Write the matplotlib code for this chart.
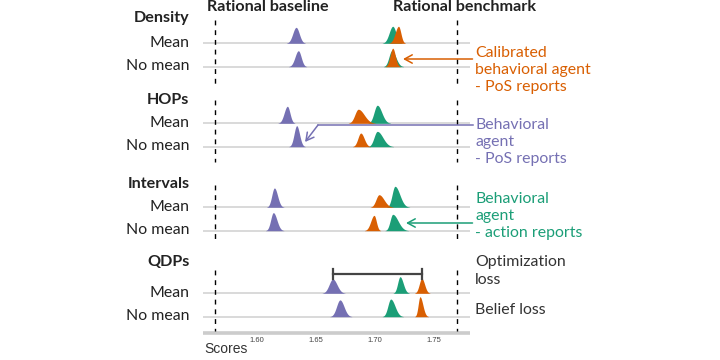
import numpy as np
import matplotlib
matplotlib.use("Agg")
import matplotlib.pyplot as plt

# ---------------- data ----------------
groups = ["Density", "HOPs", "Intervals", "QDPs"]
rows = ["Mean", "No mean"]
agents = ["Behavioral agent - PoS reports",
          "Behavioral agent - action reports",
          "Calibrated behavioral agent - PoS reports"]

# mode of each score distribution, order: group x row -> [purple, green, orange]
mode_purple = [1.6331, 1.6350, 1.6257, 1.6336, 1.6147, 1.6138, 1.6642, 1.6703]
mode_green  = [1.7150, 1.7142, 1.7019, 1.7019, 1.7169, 1.7150, 1.7212, 1.7133]
mode_orange = [1.7199, 1.7150, 1.6858, 1.6879, 1.7034, 1.6992, 1.7396, 1.7381]

# left / right spread of each distribution
sdl_purple = [0.0028, 0.0028, 0.0027, 0.0022, 0.0022, 0.0022, 0.0031, 0.0029]
sdr_purple = [0.0027, 0.0024, 0.0022, 0.0024, 0.0027, 0.0030, 0.0036, 0.0034]
sdl_green  = [0.0030, 0.0024, 0.0027, 0.0027, 0.0024, 0.0022, 0.0020, 0.0024]
sdr_green  = [0.0028, 0.0034, 0.0038, 0.0047, 0.0041, 0.0045, 0.0027, 0.0036]
sdl_orange = [0.0028, 0.0022, 0.0029, 0.0024, 0.0026, 0.0028, 0.0021, 0.0015]
sdr_orange = [0.0020, 0.0022, 0.0050, 0.0029, 0.0042, 0.0019, 0.0024, 0.0024]

# relative peak height of each distribution
h_purple = [0.76, 0.76, 0.81, 1.00, 0.92, 0.86, 0.68, 0.80]
h_green  = [0.81, 0.76, 0.86, 0.73, 1.00, 0.78, 0.79, 0.84]
h_orange = [0.81, 0.88, 0.67, 0.65, 0.60, 0.73, 0.71, 0.95]

rational_baseline = 1.5644
rational_benchmark = 1.7697
optimization_loss = (1.6642, 1.7396)
xticks = [1.60, 1.65, 1.70, 1.75]

# ---------------- style ----------------
C_P, C_G, C_O = "#7570b3", "#1b9e77", "#d95f02"
FONT = ["Lato", "DejaVu Sans"]
plt.rcParams["font.family"] = FONT
FS = 11.4
FSB = 11.6

W, H = 720, 360
fig = plt.figure(figsize=(7.2, 3.6), dpi=100)
ax_l, ax_r, ax_t, ax_b = 203, 470, 18, 332.7
ax = fig.add_axes([ax_l / W, 1 - ax_b / H, (ax_r - ax_l) / W, (ax_b - ax_t) / H])
ax.set_xlim(1.5542, 1.7805)
ax.set_ylim(ax_b, ax_t)
ax.axis("off")

row_y = [43.3, 66.7, 123.3, 146.7, 207.3, 230.7, 293.3, 316.7]
group_y = [18.3, 100, 184, 261.7]
panel = [(20, 88), (100, 162), (185, 243), (270, 331)]
peak_px = 21.0

x = np.linspace(1.5542, 1.7805, 3000)

for i, yb in enumerate(row_y):
    ax.plot([1.5542, 1.7805], [yb, yb], color="#d0d0d0", lw=1.1, zorder=1,
            solid_capstyle="butt")
    order = [(mode_purple, sdl_purple, sdr_purple, h_purple, C_P),
             (mode_green, sdl_green, sdr_green, h_green, C_G),
             (mode_orange, sdl_orange, sdr_orange, h_orange, C_O)]
    for m, sl, sr, hh, c in order:
        sd = np.where(x < m[i], sl[i], sr[i])
        d = hh[i] * np.exp(-0.5 * ((x - m[i]) / sd) ** 2)
        mask = d > 0.01
        ax.fill_between(x[mask], yb, yb - peak_px * d[mask], color=c, lw=0, zorder=3)

for (y0, y1) in panel:
    for xv in (rational_baseline, rational_benchmark):
        ax.plot([xv, xv], [y0, y1], color="black", lw=1.0, ls=(0, (3.5, 3.5)), zorder=2)

# bottom axis
ax.plot([1.5542, 1.7805], [ax_b, ax_b], color="#cccccc", lw=2.6, zorder=1,
        clip_on=False, solid_capstyle="butt")
for t in xticks:
    ax.text(t, 340.5, f"{t:.2f}", ha="center", va="center", fontsize=5.5,
            color="#444444", family="Liberation Sans")
ax.text(1.5553, 349, "Scores", ha="left", va="center", fontsize=10,
        color="#333333", family="Liberation Sans", clip_on=False)

# left labels
lab_x = 1.60 + (189.5 - 257) / 1180
for g, gy in zip(groups, group_y):
    ax.text(lab_x, gy, g, ha="right", va="center", fontsize=FSB,
            fontweight="bold", color="#222222", clip_on=False)
for i, yb in enumerate(row_y):
    ax.text(lab_x, yb - 0.5, rows[i % 2], ha="right", va="center", fontsize=FS,
            color="#222222", clip_on=False)

# top labels
ax.text(1.60 + (207 - 257) / 1180, 7, "Rational baseline", ha="left", va="center",
        fontsize=FSB, fontweight="bold", color="#222222", clip_on=False)
ax.text(1.60 + (392.5 - 257) / 1180, 7, "Rational benchmark", ha="left", va="center",
        fontsize=FSB, fontweight="bold", color="#222222", clip_on=False)

# optimization-loss bracket
b_y = 274
ax.plot(optimization_loss, [b_y, b_y], color="#444444", lw=1.6, zorder=4)
for xv in optimization_loss:
    ax.plot([xv, xv], [b_y - 5.5, b_y + 4.5], color="#444444", lw=1.6, zorder=4)

# annotations
tx = 1.60 + (475 - 257) / 1180
lx = 1.60 + (472.5 - 257) / 1180
ap = dict(arrowstyle="->,head_length=0.55,head_width=0.3", lw=1.1,
          shrinkA=0, shrinkB=0)

ax.annotate("", xy=(1.60 + (403 - 257) / 1180, 59), xytext=(lx, 59),
            arrowprops=dict(ap, color=C_O), annotation_clip=False)
ax.text(tx, 70, "Calibrated\nbehavioral agent\n- PoS reports", ha="left", va="center",
        fontsize=FS, color=C_O, linespacing=1.25, clip_on=False)

ax.plot([lx, 1.60 + (318 - 257) / 1180], [125, 125], color=C_P, lw=1.1, clip_on=False)
ax.annotate("", xy=(1.60 + (305 - 257) / 1180, 142), xytext=(1.60 + (318 - 257) / 1180, 125),
            arrowprops=dict(ap, color=C_P), annotation_clip=False)
ax.text(tx, 141.8, "Behavioral\nagent\n- PoS reports", ha="left", va="center",
        fontsize=FS, color=C_P, linespacing=1.25, clip_on=False)

ax.annotate("", xy=(1.60 + (406 - 257) / 1180, 223), xytext=(lx, 223),
            arrowprops=dict(ap, color=C_G), annotation_clip=False)
ax.text(tx, 216, "Behavioral\nagent\n- action reports", ha="left", va="center",
        fontsize=FS, color=C_G, linespacing=1.25, clip_on=False)

ax.text(tx, 271, "Optimization\nloss", ha="left", va="center",
        fontsize=FS, color="#333333", linespacing=1.32, clip_on=False)
ax.text(tx, 310.5, "Belief loss", ha="left", va="center",
        fontsize=FS, color="#333333", clip_on=False)

fig.savefig("out.png", dpi=100)
